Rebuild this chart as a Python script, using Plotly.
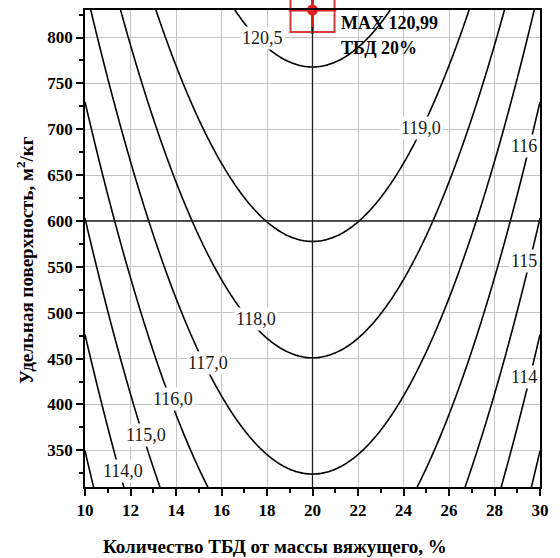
import numpy as np
import plotly.graph_objects as go

# ---- data -----------------------------------------------------------------
# Response surface (quadratic in x, linear in y) read from the contour positions
Z_MAX = 120.99          # maximum value (MAX 120,99)
X_OPT = 20.0            # ТБД, % at the maximum
Y_OPT = 830.0           # specific surface at the maximum (top of plot)
CURV_X = 0.042          # fall of the response per (%)^2 away from X_OPT
SLOPE_Y = 1.0 / 126.8   # rise of the response per m2/kg
Y_REF = 600             # highlighted horizontal reference line

levels_int = [113, 114, 115, 116, 117, 118, 119]
level_top = 120.5

x_ticks = [10, 12, 14, 16, 18, 20, 22, 24, 26, 28, 30]
y_ticks = [350, 400, 450, 500, 550, 600, 650, 700, 750, 800]

label_texts = ["120,5", "119,0", "118,0", "117,0", "116,0", "115,0", "114,0",
               "116", "115", "114"]
max_texts = ["MAX 120,99", "ТБД 20%"]

# ---- grid -------------------------------------------------------------------
xg = np.linspace(10, 30, 201)
yg = np.linspace(310, 830, 261)
X, Y = np.meshgrid(xg, yg)
Z = Z_MAX - CURV_X * (X - X_OPT) ** 2 - (Y_OPT - Y) * SLOPE_Y

SERIF = "Liberation Serif"

fig = go.Figure()
fig.add_trace(go.Contour(
    x=xg, y=yg, z=Z,
    contours=dict(coloring="none", start=levels_int[0], end=levels_int[-1], size=1,
                  showlabels=False),
    line=dict(color="black", width=1.6), showscale=False, hoverinfo="skip"))
fig.add_trace(go.Contour(
    x=xg, y=yg, z=Z,
    contours=dict(coloring="none", start=level_top, end=level_top, size=1,
                  showlabels=False),
    line=dict(color="black", width=1.6), showscale=False, hoverinfo="skip"))

# maximum marker
red = "#e0201f"
fig.add_trace(go.Scatter(x=[X_OPT], y=[Y_OPT], mode="markers", cliponaxis=False,
                         marker=dict(symbol="square-open", size=44, color="#d8393a",
                                     line=dict(width=2, color="#d8393a")),
                         hoverinfo="skip", showlegend=False))
fig.add_trace(go.Scatter(x=[X_OPT], y=[Y_OPT], mode="markers", cliponaxis=False,
                         marker=dict(symbol="cross-thin-open", size=34, color=red,
                                     line=dict(width=3, color=red)),
                         hoverinfo="skip", showlegend=False))
fig.add_trace(go.Scatter(x=[X_OPT], y=[Y_OPT], mode="markers", cliponaxis=False,
                         marker=dict(symbol="circle", size=11, color=red),
                         hoverinfo="skip", showlegend=False))

# contour labels (positions are layout)
label_pos = [(17.8, 800), (24.75, 701.5), (17.5, 493.5), (15.4, 445.6), (13.87, 406.2),
             (12.68, 367), (11.65, 327.3), (29.3, 681.5), (29.3, 556.2), (29.3, 430.4)]
annotations = []
for t, (lx, ly) in zip(label_texts, label_pos):
    annotations.append(dict(x=lx, y=ly, xref="x", yref="y", text=t, showarrow=False,
                            font=dict(family=SERIF, size=18, color="#1a1a1a"),
                            bgcolor="white", borderpad=1))
annotations.append(dict(x=21.17, y=0.9718, xref="x", yref="paper", text="<b>" + max_texts[0] + "</b>",
                        xanchor="left", yanchor="middle", showarrow=False,
                        font=dict(family=SERIF, size=18, color="black")))
annotations.append(dict(x=21.17, y=0.9196, xref="x", yref="paper", text="<b>" + max_texts[1] + "</b>",
                        xanchor="left", yanchor="middle", showarrow=False,
                        font=dict(family=SERIF, size=18, color="black")))
# axis titles
annotations.append(dict(x=0.4185, y=-0.124, xref="paper", yref="paper",
                        text="<b>Количество ТБД от массы вяжущего, %</b>",
                        showarrow=False, xanchor="center", yanchor="middle",
                        font=dict(family=SERIF, size=19, color="black")))
annotations.append(dict(x=-0.132, y=0.476, xref="paper", yref="paper",
                        text="<b>Удельная поверхность, м<sup>2</sup>/кг</b>",
                        showarrow=False, xanchor="center", yanchor="middle", textangle=-90,
                        font=dict(family=SERIF, size=19, color="black")))

shapes = [
    dict(type="line", xref="x", yref="paper", x0=X_OPT, x1=X_OPT, y0=0, y1=0.964,
         line=dict(color="#1e1e1e", width=1.3), layer="above"),
    dict(type="line", xref="paper", yref="y", x0=0, x1=1, y0=Y_REF, y1=Y_REF,
         line=dict(color="#1e1e1e", width=1.3), layer="above"),
]

axis_common = dict(showline=True, linecolor="black", linewidth=1.8, mirror=True,
                   ticks="outside", ticklen=7, tickwidth=1.5, tickcolor="black",
                   showgrid=True, gridcolor="#c4c4c4", gridwidth=1, zeroline=False,
                   tickfont=dict(family=SERIF, size=17, color="black", weight="bold"))

fig.update_layout(
    width=560, height=558,
    margin=dict(l=85, r=20, t=8, b=71),
    paper_bgcolor="white", plot_bgcolor="white",
    showlegend=False,
    xaxis=dict(range=[10, 30], tickvals=x_ticks, ticktext=[str(v) for v in x_ticks],
               minor=dict(dtick=1, ticks="outside", ticklen=4, tickcolor="black", showgrid=False),
               **axis_common),
    yaxis=dict(range=[310, 830], tickvals=y_ticks, ticktext=[str(v) for v in y_ticks],
               minor=dict(tick0=0, dtick=25, ticks="outside", ticklen=4, tickcolor="black",
                          showgrid=False),
               **axis_common),
    annotations=annotations,
    shapes=shapes,
)

fig.write_html("out.html")
